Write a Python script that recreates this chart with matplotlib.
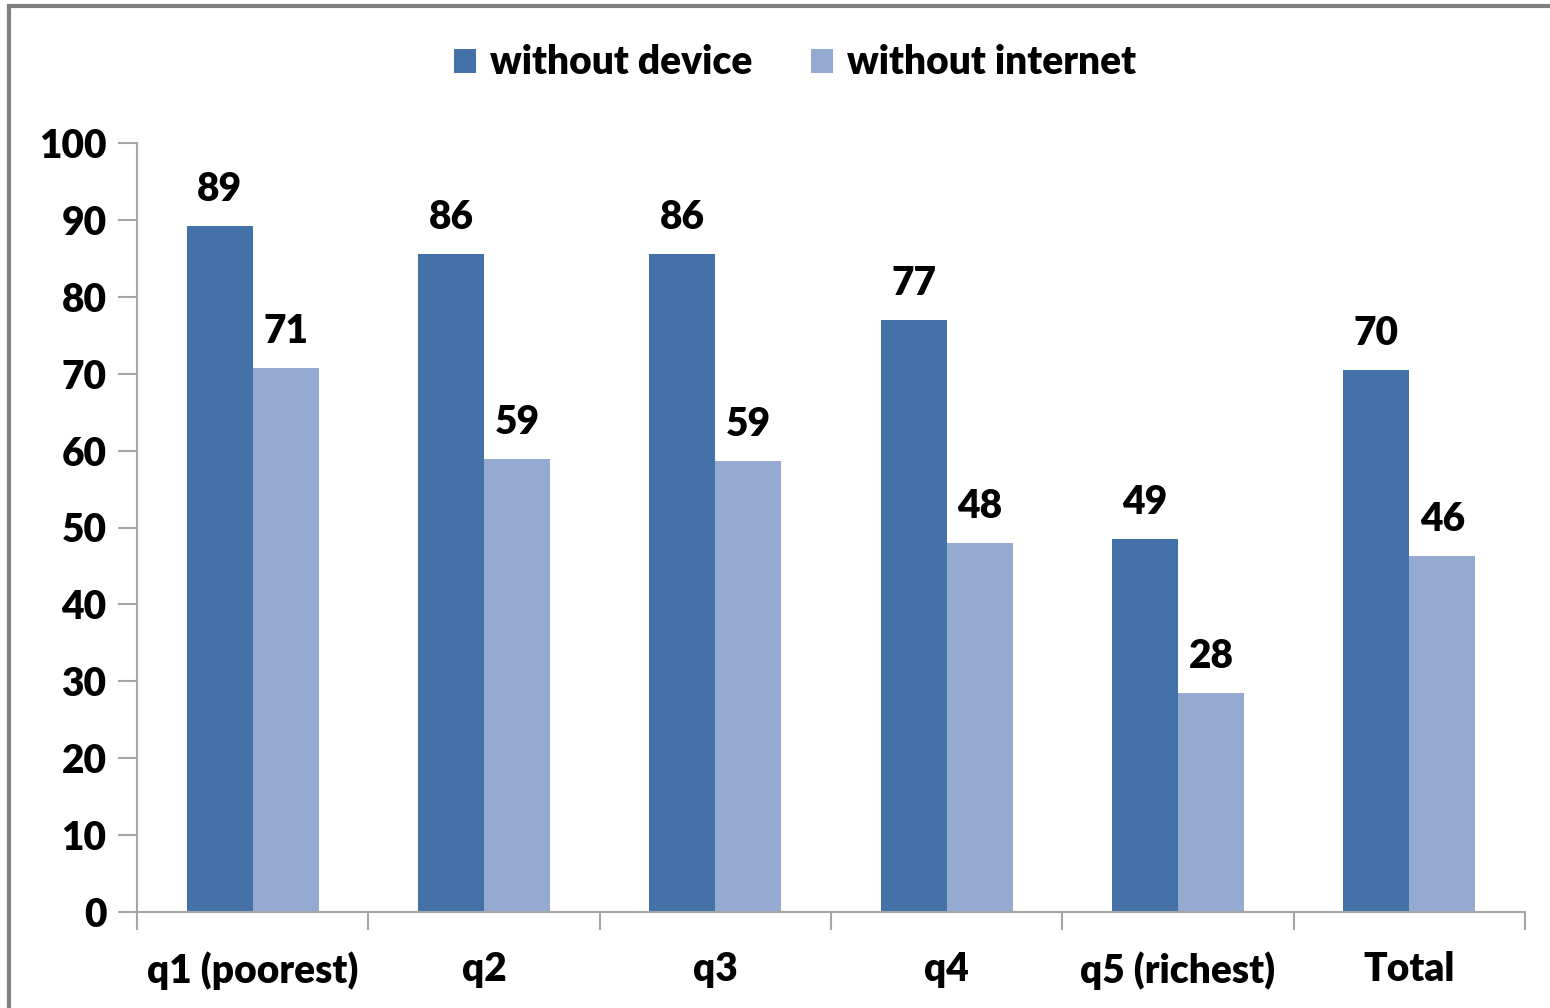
import matplotlib.pyplot as plt
import numpy as np
from matplotlib.patches import Rectangle

# Dados do gráfico
categorias = ['q1 (poorest)', 'q2', 'q3', 'q4', 'q5 (richest)', 'Total']
sem_dispositivo = [89.2, 85.6, 85.6, 77.0, 48.5, 70.5]
sem_internet = [70.7, 58.9, 58.6, 48.0, 28.5, 46.3]
rotulos_dispositivo = ['89', '86', '86', '77', '49', '70']
rotulos_internet = ['71', '59', '59', '48', '28', '46']

cor_escura = '#4472A8'
cor_clara = '#95AAD0'
cor_eixo = '#A6A6A6'
peso = 'heavy'
tam = 28

plt.rcParams['font.family'] = ['Lato', 'DejaVu Sans']
plt.rcParams['font.weight'] = peso

fig = plt.figure(figsize=(15.5, 10.08), dpi=100)
ax = fig.add_axes([137 / 1550, 96 / 1008, (1525 - 137) / 1550, (912 - 143) / 1008])

# Moldura cinza em volta do gráfico
fig.patches.append(Rectangle((9 / 1550, -0.05), 1.2, 1 - 6 / 1008 + 0.05,
                             transform=fig.transFigure, fill=False,
                             edgecolor='#808080', linewidth=3))

x = np.arange(len(categorias))
largura = 0.285
b1 = ax.bar(x - largura / 2, sem_dispositivo, largura, color=cor_escura, label='without device')
b2 = ax.bar(x + largura / 2, sem_internet, largura, color=cor_clara, label='without internet')

ax.bar_label(b1, labels=rotulos_dispositivo, padding=13, fontsize=tam, fontweight=peso)
ax.bar_label(b2, labels=rotulos_internet, padding=13, fontsize=tam, fontweight=peso)

ax.set_xlim(-0.5, len(categorias) - 0.5)
ax.set_ylim(0, 100)
ax.set_yticks(range(0, 101, 10))
ax.set_xticks(x)
ax.set_xticklabels(categorias)
ax.set_xticks(np.arange(-0.5, len(categorias)), minor=True)

ax.tick_params(axis='y', labelsize=tam, length=14, width=1.5, color=cor_eixo, pad=8)
ax.tick_params(axis='x', which='major', labelsize=tam, length=0, pad=28)
ax.tick_params(axis='x', which='minor', length=13, width=1.5, color=cor_eixo)

for lado in ['top', 'right']:
    ax.spines[lado].set_visible(False)
for lado in ['left', 'bottom']:
    ax.spines[lado].set_color(cor_eixo)
    ax.spines[lado].set_linewidth(1.5)

fig.legend(loc='center', bbox_to_anchor=(795 / 1550, 1 - 63 / 1008), ncol=2, frameon=False,
           handlelength=0.57, handleheight=0.57, handletextpad=0.35,
           columnspacing=1.5, prop={'weight': peso, 'size': tam})

fig.savefig('out.png', dpi=100)
